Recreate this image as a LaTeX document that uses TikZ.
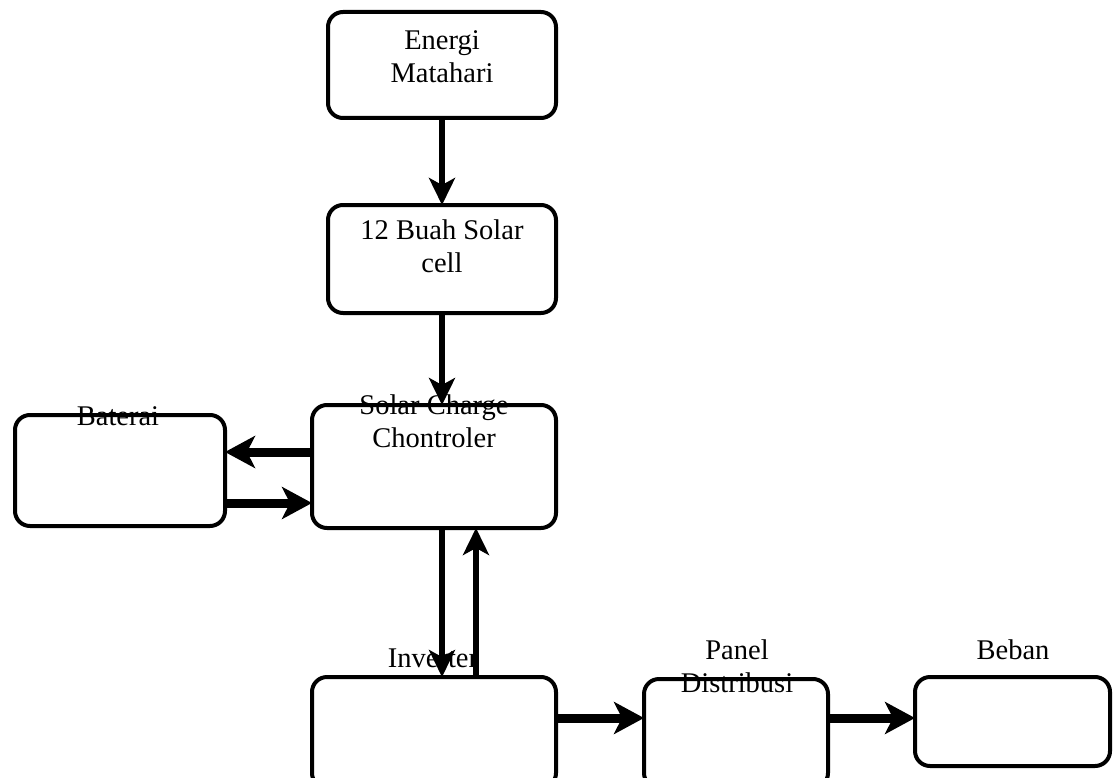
\documentclass[tikz,border=0pt]{standalone}
\usepackage{fontspec}
\setmainfont{Liberation Serif}
\usetikzlibrary{arrows.meta}
\begin{document}
\begin{tikzpicture}[x=1pt,y=-1pt,
  box/.style={draw, line width=4pt, rounded corners=15pt, inner sep=0pt, outer sep=0pt},
  lbl/.style={inner sep=0pt, anchor=base, font=\fontsize{28.5}{33}\selectfont, align=center},
  varr/.style={line width=6.5pt, -{Stealth[length=27pt,width=26pt,inset=7pt]}},
  harr/.style={line width=9pt, -{Stealth[length=30pt,width=32pt,inset=8pt]}}]
\useasboundingbox (0,0) rectangle (1115,778);
\clip (0,0) rectangle (1115,778);
% boxes
\node[box, minimum width=228pt, minimum height=106pt] (energi) at (442,65) {};
\node[box, minimum width=228pt, minimum height=108pt] (solar) at (442,259) {};
\node[box, minimum width=244pt, minimum height=123pt] (scc) at (434,466.5) {};
\node[box, minimum width=210pt, minimum height=111pt] (baterai) at (120,470.5) {};
\node[box, minimum width=244pt, minimum height=111pt] (inv) at (434,732.5) {};
\node[box, minimum width=184pt, minimum height=109pt] (panel) at (736,733.5) {};
\node[box, minimum width=195pt, minimum height=89pt] (beban) at (1012.5,721.5) {};
% labels (anchor = baseline of last line)
\node[lbl] (tEnergi) at (442,83) {Energi\\Matahari};
\node[lbl] (tSolar) at (442,272) {12 Buah Solar\\cell};
\node[lbl] (tScc) at (434,447) {Solar Charge\\Chontroler};
\node[lbl] (tBat) at (118,425) {Baterai};
\node[lbl] (tInv) at (433,667) {Inverter};
\node[lbl] (tPanel) at (737,692) {Panel\\Distribusi};
\node[lbl] (tBeban) at (1013,659) {Beban};
% helper coordinates
\coordinate (xdown) at (442,0);
\coordinate (xup) at (476,0);
\coordinate (ybl) at (0,452);
\coordinate (ybr) at (0,503);
\coordinate (ybot) at (0,718);
% arrows
\draw[varr] (energi.south) -- (solar.north);
\draw[varr] (solar.south) -- (scc.north -| solar.south);
\draw[harr] (scc.west |- ybl) -- (baterai.east |- ybl);
\draw[harr] (baterai.east |- ybr) -- (scc.west |- ybr);
\draw[varr] (scc.south -| xdown) -- (inv.north -| xdown);
\draw[varr] (inv.north -| xup) -- (scc.south -| xup);
\draw[harr] (inv.east |- ybot) -- (panel.west |- ybot);
\draw[harr] (panel.east |- ybot) -- (beban.west |- ybot);
\end{tikzpicture}
\end{document}
